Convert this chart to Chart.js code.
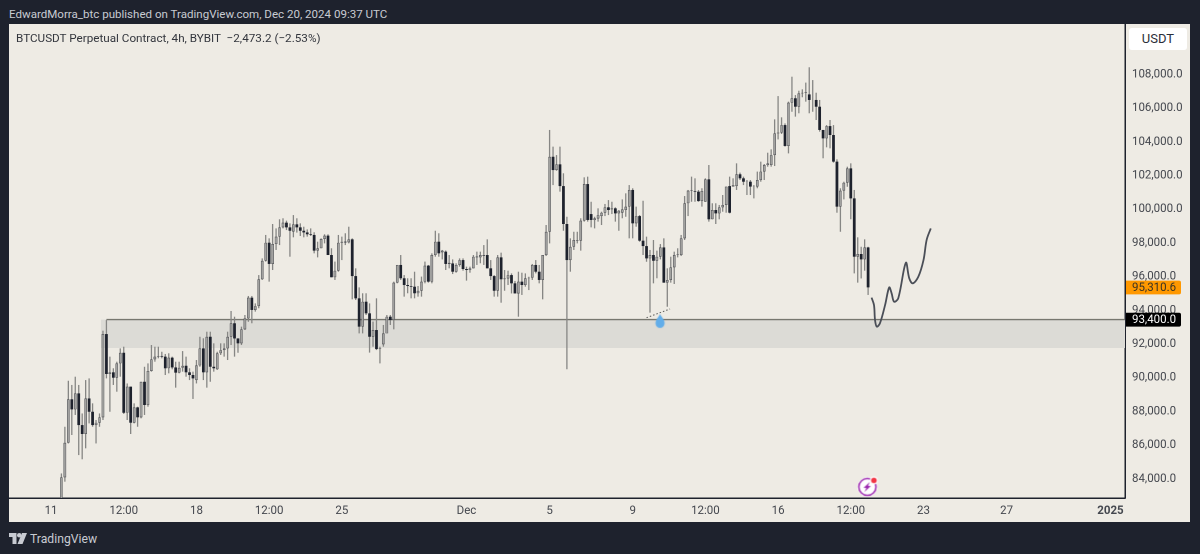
<!DOCTYPE html>
<html>
<head>
<meta charset="utf-8">
<title>BTCUSDT</title>
<script src="https://cdn.jsdelivr.net/npm/chart.js@4"></script>
<style>
    html, body { margin: 0; padding: 0; width: 1200px; height: 554px; overflow: hidden; background: #1e222d; font-family: Roboto, sans-serif; }
    #author { position: absolute; left: 9px; top: 7px; font-size: 11.55px; line-height: 14px; color: #c8cbd2; white-space: nowrap; }
    #panel { position: absolute; left: 9px; top: 24px; width: 1181px; height: 498px; background: #eeebe4; }
    #symbol { position: absolute; left: 16px; top: 31px; font-size: 11.7px; line-height: 14px; color: #33363d; white-space: pre; }
    #currency { position: absolute; left: 1129px; top: 28px; width: 58px; height: 22px; line-height: 22px; background: #fff; border-radius: 3px; text-align: center; font-size: 13px; color: #2a2e39; }
    #brand { position: absolute; left: 30px; top: 531px; font-size: 12.2px; line-height: 16px; color: #c8cbd2; }
    #logo { position: absolute; left: 9px; top: 533px; }
</style>
</head>
<body>
<div id="author">EdwardMorra_btc published on TradingView.com, Dec 20, 2024 09:37 UTC</div>
<div id="panel"><canvas id="priceChart"></canvas></div>
<div id="symbol">BTCUSDT Perpetual Contract, 4h, BYBIT  −2,473.2 (−2.53%)</div>
<div id="currency">USDT</div>
<svg id="logo" width="18" height="11" viewBox="0 0 36 22"><path fill="#c8cbd2" d="M0 0h15v22H7V8H0z"/><circle cx="20.5" cy="4.5" r="4.5" fill="#c8cbd2"/><path fill="#c8cbd2" d="M26 0h10l-9 22H17z"/></svg>
<div id="brand">TradingView</div>
<script>
const opens = [
    82690,84040,86090,88670,88070,89020,87140,86610,88720,87930,
    87140,87280,87600,92540,90170,90270,89950,90800,91430,87870,
    89420,87280,88190,87600,89710,88330,90350,91040,91200,91240,
    91200,90510,91140,90560,90250,90540,90660,90270,90110,89810,
    90680,91690,90270,92380,90600,90450,91400,91590,91690,92380,
    93180,92280,91990,92820,93470,94700,93970,94200,95790,96890,
    97960,96700,97880,98320,98870,99150,98870,98620,99050,98870,
    98670,98570,98460,98420,97490,97630,98180,98380,97230,95910,
    96300,97960,98020,97980,98160,95980,94660,92980,94460,93770,
    92380,92780,91650,91930,92580,93570,93370,95590,96640,95850,
    95450,95390,95350,94960,95110,95650,96600,95650,97230,98020,
    97390,97430,96700,96730,96240,96640,96930,96400,96340,96440,
    97130,97090,97170,97230,96440,95980,95110,97090,95790,95840,
    96040,95550,94950,95650,95450,95850,95880,96640,96240,95750,
    97230,98610,103060,102270,102610,101320,99070,96930,97720,98080,
    98080,99270,101440,99660,99300,99400,99540,99740,100060,99940,
    100000,99700,99740,99900,100100,101090,99110,99540,98080,97760,
    97030,97230,96890,97130,97680,95590,95750,96500,97230,97230,
    98220,100300,101050,101030,100990,100430,100390,101720,99350,99900,
    99700,100060,100200,101320,101290,101320,102020,101780,101580,101580,
    101290,101290,101680,102180,102570,102570,103160,104450,104490,104940,
    103700,106270,106530,106030,106820,106860,106760,106430,106430,106030,
    104650,104150,104880,104350,102770,100100,101050,101520,102370,100590,
    97130,97290,96970,97680
];
const highs = [
    84270,87040,89770,89520,90010,89520,87830,89810,89910,88430,
    87440,87830,92740,93370,91200,90510,90900,91690,91790,89610,
    89420,88430,88230,89710,90600,90800,91890,91790,91790,91490,
    91360,91400,91200,90900,90900,91530,91200,90510,90310,91000,
    92380,92290,92680,92680,91990,91490,91990,91990,92680,93910,
    93570,92290,92980,93670,94800,94800,94360,96040,97030,98420,
    98220,99070,98810,99350,99410,99270,99110,99600,99410,99110,
    98910,98750,98810,98580,98020,98220,98460,98460,97630,96840,
    98420,98320,98520,98910,98220,96440,95310,94960,94960,94360,
    93280,94660,91790,93080,93670,93670,95650,96640,97230,96040,
    95850,95850,96240,95390,95950,96840,96640,97330,98670,98520,
    97530,97500,97230,96970,96740,97030,97030,96540,96540,97230,
    97430,97430,97820,98160,96930,96040,97230,97370,96340,96300,
    96140,95690,96240,96180,96140,95940,96700,96930,96640,97230,
    99010,104650,103660,103160,103660,102080,99500,98220,98610,98610,
    99410,101840,101880,100390,99500,100000,99800,100260,100490,100390,
    100060,99900,100530,100890,101380,101190,100100,99600,100450,98320,
    97530,98120,97490,97880,98220,96440,97130,97430,97630,98420,
    100730,101090,101880,101780,101090,101190,101780,102570,100300,100300,
    100200,100790,101290,101880,101780,102670,102120,101880,101680,101680,
    101380,102180,102770,102630,103300,103500,105280,106660,105400,105040,
    106330,107810,106720,106980,107060,107460,108370,107610,106860,106430,
    104650,104940,105240,104940,102910,101190,101580,102470,102670,101090,
    98280,97720,98160,97720
];
const lows = [
    82490,83780,86050,86550,87740,85360,85110,85760,87240,87040,
    86050,87040,87440,89910,87930,89520,89120,90010,87800,87440,
    86610,87240,87040,87540,87740,88230,90310,90900,91100,91100,
    90110,90210,90450,89360,90210,90310,90010,89810,88690,89610,
    90600,89810,89360,89710,90310,90410,91300,91200,91000,91890,
    91200,91430,91890,92780,93270,93180,93870,94070,95750,96840,
    95650,96340,97530,97820,98810,98710,97130,98280,98560,98360,
    98280,98320,98360,97330,97090,97630,97920,97230,95910,95750,
    96240,96930,97820,97920,94600,94560,92580,92580,93670,91440,
    91790,91590,90800,91790,92680,93080,92820,95550,95750,94760,
    94960,94660,94660,94760,94760,95550,95590,95550,97130,97130,
    96970,96340,96440,96100,96180,96540,96300,95710,96180,96440,
    96640,96740,96640,96440,95750,94760,94760,94400,95110,95450,
    94950,94950,93570,94860,95350,95150,95750,96140,95550,94600,
    97170,97920,101380,102230,100990,98670,90450,96240,97530,97920,
    97490,99210,99210,98870,98810,99210,99010,99540,99600,99660,
    99210,98670,99410,99500,98220,98220,98910,98020,97230,96830,
    93810,95550,95850,96970,95590,94160,95590,95510,97090,97170,
    98120,99540,100390,100390,100390,100100,100390,99210,99350,99070,
    99350,99800,99740,99700,101290,101090,101680,101380,100790,100790,
    100590,101190,101580,101680,102470,102470,102510,104090,104410,103660,
    103260,105730,105440,105640,106590,106330,105640,105730,105240,104550,
    102970,103620,103560,102710,99740,98610,100530,101280,99350,96140,
    95590,95840,96300,94860
];
const closes = [
    84040,86090,88670,88070,89020,87140,86610,88720,87930,87140,
    87280,87600,92540,90170,90270,89950,90800,91430,87870,89420,
    87280,88190,87600,89710,88330,90350,91040,91200,91240,91200,
    90510,91140,90560,90250,90540,90660,90270,90110,89910,90680,
    91690,90270,92380,90600,90510,91400,91590,91690,92380,93180,
    92280,91990,92820,93470,94700,93970,94200,95790,96890,97960,
    96700,97880,98320,98870,99150,98870,98670,99050,98870,98670,
    98570,98460,98420,97490,97630,98180,98380,97230,95910,96300,
    97960,98020,97980,98160,95980,94660,92980,94460,93770,92380,
    92780,91650,91690,92580,93570,93370,95590,96640,95850,95450,
    95390,95350,94960,95110,95650,96600,95650,97230,98020,97330,
    97490,96700,96770,96240,96640,96930,96400,96340,96440,97130,
    97100,97230,97230,96440,95980,95110,97090,95790,95840,96040,
    95550,94950,95650,95450,95850,95880,96640,96240,95750,97230,
    98610,103060,102270,102610,101320,99070,96930,97720,98120,98120,
    99270,101440,99310,99310,99410,99600,99740,100060,99900,100000,
    99700,99860,99940,100100,101090,99110,99540,98080,97760,97030,
    97230,96890,97130,97680,95590,95750,96500,97230,97260,98220,
    100300,101050,101030,100990,100430,101030,101720,99350,99900,99700,
    100060,100200,101290,99740,101380,102020,101780,101580,101590,101290,
    101300,101680,102180,102570,102670,103160,104450,104490,104940,103700,
    106270,106530,106030,106820,106860,106900,106430,106430,106030,104650,
    104150,104880,104350,102770,100100,101050,101520,102370,100590,97130,
    97290,96970,97680,95310
];

// hand drawn projection after the last candle
const projectionIndex = [234,234.7,235,235.5,236.4,237.9,239.1,239.8,240.5,241.7,243.9,244.9,245.9,247.5,249,249.9,251.1];
const projectionPrice = [94700,94260,93370,92980,93170,94260,95310,94950,94460,94660,96770,95840,95550,95940,96930,98120,98810];

const zoneTop = 93400;
const zoneBottom = 91710;
const zoneIndex = [11.4, 307.2];
const zoneLineIndex = [13, 307.2];
const trendIndex = [169, 175.8];
const trendPrice = [93510, 94030];
const dropIndex = [172.9];
const dropPrice = [93320];
const flashIndex = [232.8];
const flashPrice = [83470];

const xTickIndex = [-3,18,39,60,81,117,141,165,186,207,228,249,273,303];
const xTickLabels = ['11','12:00','18','12:00','25','Dec','5','9','12:00','16','12:00','23','27','2025'];
const yTickValues = [84000,86000,88000,90000,92000,94000,96000,98000,100000,102000,104000,106000,108000];
const tagValues = [95310.6, 93400];

const xRange = [-15.14, 307.2];
const yRange = [82813, 110937];

function priceText(v) {
    return v.toLocaleString('en-US', { minimumFractionDigits: 1, maximumFractionDigits: 1 });
}

function makeDropIcon() {
    const c = document.createElement('canvas');
    c.width = 14;
    c.height = 16;
    const g = c.getContext('2d');
    g.fillStyle = '#62ade9';
    g.beginPath();
    g.moveTo(7, 1);
    g.bezierCurveTo(8, 4, 11.5, 6, 11.5, 10);
    g.arc(7, 10.5, 4.5, 0, Math.PI);
    g.bezierCurveTo(2.5, 6, 6, 4, 7, 1);
    g.fill();
    return c;
}

function makeFlashIcon() {
    const c = document.createElement('canvas');
    c.width = 24;
    c.height = 24;
    const g = c.getContext('2d');
    g.fillStyle = '#fff';
    g.beginPath();
    g.arc(12, 12, 10, 0, Math.PI * 2);
    g.fill();
    g.strokeStyle = '#9c27b0';
    g.lineWidth = 1.5;
    g.beginPath();
    g.arc(12, 12, 8.6, 0, Math.PI * 2);
    g.stroke();
    g.fillStyle = '#9c27b0';
    g.beginPath();
    g.moveTo(14.5, 7);
    g.lineTo(8, 13);
    g.lineTo(11, 13);
    g.lineTo(9, 17);
    g.lineTo(15.5, 11);
    g.lineTo(12.5, 11);
    g.closePath();
    g.fill();
    g.fillStyle = '#fff';
    g.beginPath();
    g.arc(18.5, 5.5, 4, 0, Math.PI * 2);
    g.fill();
    g.fillStyle = '#f23645';
    g.beginPath();
    g.arc(18.5, 5.5, 2.8, 0, Math.PI * 2);
    g.fill();
    return c;
}

const priceTags = {
    id: 'priceTags',
    afterDraw(chart) {
        const { ctx, scales: { y }, chartArea } = chart;
        ctx.save();
        ctx.font = '11.5px Roboto';
        ctx.textBaseline = 'middle';
        ctx.textAlign = 'left';
        tagValues.forEach((v, i) => {
            const py = y.getPixelForValue(v);
            ctx.fillStyle = i === 0 ? '#ff9800' : '#000000';
            ctx.beginPath();
            ctx.roundRect(chartArea.right + 1, py - 6.8, 55, 13.8, [0, 2, 2, 0]);
            ctx.fill();
            ctx.fillStyle = i === 0 ? '#3a3325' : '#ffffff';
            ctx.fillText(priceText(v), chartArea.right + 7, py + 0.6);
        });
        ctx.restore();
    }
};

function createPriceChart() {
    const ctx = document.getElementById('priceChart');
    const index = opens.map((_, i) => i);
    const isUp = c => c.raw && c.raw.y[1] >= c.raw.y[0];

    new Chart(ctx, {
        type: 'bar',
        plugins: [priceTags],
        data: {
            datasets: [
                {
                    type: 'line',
                    data: zoneIndex.map(x => ({ x: x, y: zoneTop })),
                    borderWidth: 0,
                    pointRadius: 0,
                    backgroundColor: '#dcdbd6',
                    fill: { value: zoneBottom },
                    order: 6
                },
                {
                    type: 'line',
                    data: zoneLineIndex.map(x => ({ x: x, y: zoneTop })),
                    borderColor: '#77776f',
                    borderWidth: 1.4,
                    pointRadius: 0,
                    order: 5
                },
                {
                    // wicks
                    data: index.map(i => ({ x: i, y: [lows[i], highs[i]] })),
                    grouped: false,
                    barPercentage: 1,
                    maxBarThickness: 1.3,
                    backgroundColor: '#868684',
                    borderWidth: 0,
                    order: 4
                },
                {
                    // bodies
                    data: index.map(i => ({ x: i, y: [opens[i], closes[i]] })),
                    grouped: false,
                    barPercentage: 1,
                    maxBarThickness: 2.8,
                    backgroundColor: c => isUp(c) ? '#a2a2a0' : '#1e222d',
                    borderColor: c => isUp(c) ? '#55565a' : '#1e222d',
                    borderWidth: c => isUp(c) ? 0.7 : 0,
                    borderSkipped: false,
                    order: 3
                },
                {
                    type: 'line',
                    data: trendIndex.map((x, i) => ({ x: x, y: trendPrice[i] })),
                    borderColor: '#5c5c5c',
                    borderWidth: 1,
                    borderDash: [1.5, 2],
                    pointRadius: 0,
                    order: 2
                },
                {
                    type: 'line',
                    data: projectionIndex.map((x, i) => ({ x: x, y: projectionPrice[i] })),
                    borderColor: '#4a4e57',
                    borderWidth: 1.8,
                    tension: 0.35,
                    pointRadius: 0,
                    order: 1
                },
                {
                    type: 'line',
                    data: dropIndex.map((x, i) => ({ x: x, y: dropPrice[i] })),
                    showLine: false,
                    pointStyle: makeDropIcon(),
                    order: 0
                },
                {
                    type: 'line',
                    data: flashIndex.map((x, i) => ({ x: x, y: flashPrice[i] })),
                    showLine: false,
                    pointStyle: makeFlashIcon(),
                    order: 0
                }
            ]
        },
        options: {
            responsive: true,
            maintainAspectRatio: false,
            animation: false,
            devicePixelRatio: 2,
            events: [],
            layout: { autoPadding: false },
            plugins: {
                legend: { display: false },
                tooltip: { enabled: false }
            },
            scales: {
                x: {
                    type: 'linear',
                    offset: false,
                    min: xRange[0],
                    max: xRange[1],
                    grid: { display: false, drawTicks: false },
                    border: { color: '#1e222d', width: 1.5 },
                    afterFit: s => { s.height = 24; s.paddingLeft = 0; s.paddingRight = 0; },
                    afterBuildTicks: s => { s.ticks = xTickIndex.map(v => ({ value: v })); },
                    ticks: {
                        autoSkip: false,
                        maxRotation: 0,
                        padding: 6,
                        color: '#44474e',
                        font: c => ({
                            family: 'Roboto',
                            size: 11.5,
                            weight: c.tick && c.tick.value === 303 ? 'bold' : 'normal'
                        }),
                        callback: v => xTickLabels[xTickIndex.indexOf(v)]
                    }
                },
                y: {
                    position: 'right',
                    min: yRange[0],
                    max: yRange[1],
                    grid: { display: false, drawTicks: false },
                    border: { color: '#1e222d', width: 1.5 },
                    afterFit: s => { s.width = 65; s.paddingTop = 0; s.paddingBottom = 0; },
                    afterBuildTicks: s => { s.ticks = yTickValues.map(v => ({ value: v })); },
                    ticks: {
                        autoSkip: false,
                        padding: 7,
                        labelOffset: 1,
                        color: '#44474e',
                        font: { family: 'Roboto', size: 11.5 },
                        callback: v => priceText(v)
                    }
                }
            }
        }
    });
}

createPriceChart();
</script>
</body>
</html>
